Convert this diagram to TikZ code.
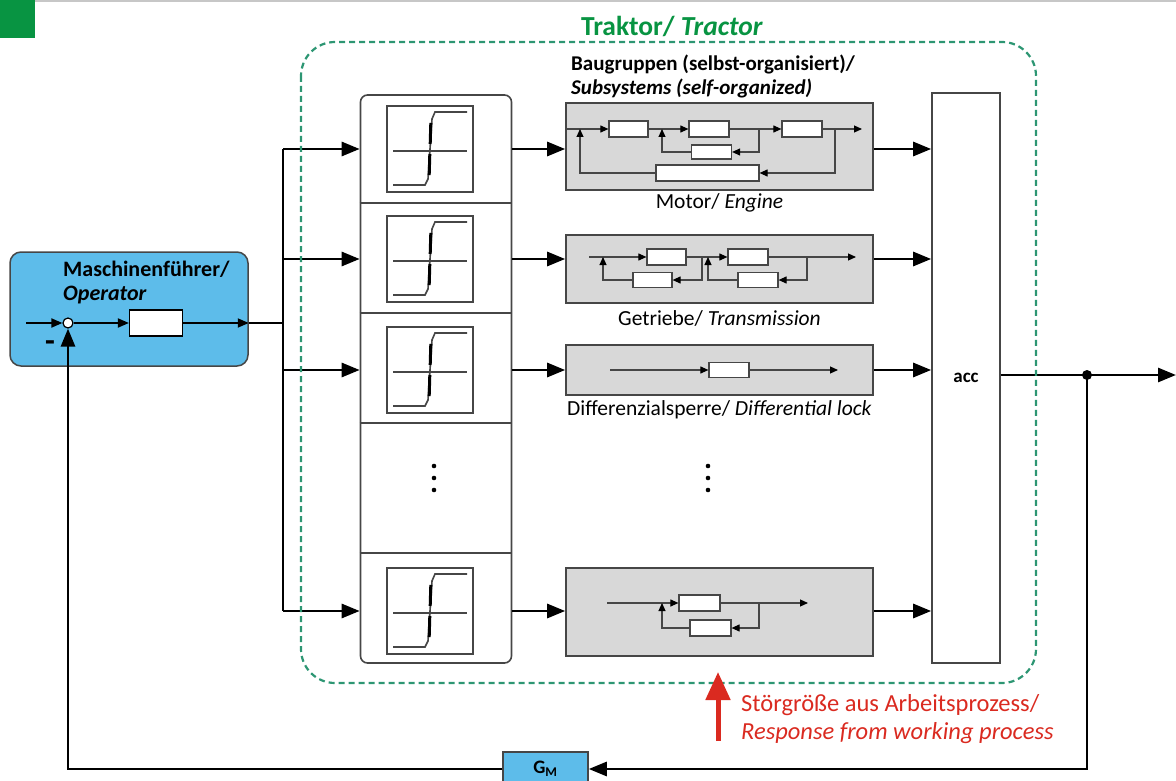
\documentclass[tikz,border=0pt]{standalone}
\usepackage{fontspec}
\setmainfont{Carlito}
\usetikzlibrary{arrows.meta,positioning}

\definecolor{kopfgruen}{RGB}{8,148,66}
\definecolor{rahmengruen}{RGB}{45,150,115}
\definecolor{fahrerblau}{RGB}{93,188,234}
\definecolor{baugrau}{RGB}{216,216,216}
\definecolor{stoerrot}{RGB}{218,42,32}
\definecolor{linie}{RGB}{70,70,70}

\tikzset{
  signal/.style={line width=2.8pt, -{Triangle[length=18pt,width=14pt]}},
  pfeil/.style={line width=1.8pt, -{Triangle[length=11pt,width=9pt]}},
  leitung/.style={line width=2.8pt},
  fein/.style={draw=linie, line width=1.1pt, -{Triangle[length=8pt,width=7pt,color=black]}},
  feinlinie/.style={draw=linie, line width=1.1pt},
  block/.style={draw=linie, fill=white, line width=1.2pt, minimum width=40pt, minimum height=16pt, inner sep=0pt},
  baugruppe/.style={draw=linie, fill=baugrau, line width=1.6pt, minimum width=307pt, inner sep=0pt},
  rahmen/.style={draw=linie, line width=1.6pt, inner sep=0pt},
  kennlinie/.style={draw=linie, line width=1.6pt, minimum size=86pt, inner sep=0pt},
  etikett/.style={font=\fontsize{21.5}{24}\selectfont, inner sep=0pt},
  fett/.style={font=\fontsize{22}{24}\selectfont\bfseries, align=left, inner sep=0pt}
}

\begin{document}
\begin{tikzpicture}[x=1pt, y=-1pt]
  \useasboundingbox (0,0) rectangle (1176,781);

  % Kopfzeile
  \fill[kopfgruen] (0,0) rectangle (35,38);
  \draw[black!22, line width=1.5pt] (35,0.8) -- (1176,0.8);

  % Titel
  \node[font=\fontsize{27.5}{30}\selectfont\bfseries, text=kopfgruen] (traktor) at (672,26) {Traktor/ \textit{Tractor}};
  \node[fett, font=\fontsize{21}{24}\selectfont\bfseries, anchor=west] (baugruppen) at (571,76) {Baugruppen (selbst-organisiert)/\\\textit{Subsystems (self-organized)}};

  % Maschinenführer
  \node[draw=linie, fill=fahrerblau, line width=1.5pt, rounded corners=11pt, minimum width=238pt, minimum height=114pt] (fuehrer) at (129,309) {};
  \node[fett, anchor=north west] (fuehrertext) at (63,261) {Maschinenführer/\\\textit{Operator}};
  \node[circle, draw=black, fill=white, line width=1.2pt, minimum size=10pt, inner sep=0pt] (summe) at (68,323) {};
  \node[block, draw=black, minimum width=53pt, minimum height=26pt] (regler) at (156,323) {};
  \node[font=\fontsize{32}{32}\selectfont\bfseries, inner sep=0pt] (minus) at (50,346) {-};
  \coordinate (eingang) at (26,323);
  \coordinate (verteiler) at (283,323);
  \draw[pfeil] (eingang) -- (summe);
  \draw[pfeil] (summe) -- (regler);
  \draw[pfeil] (regler) -- (regler -| fuehrer.east);
  \draw[leitung] (regler -| fuehrer.east) -- (verteiler);

  % Kennlinien
  \node[rahmen, rounded corners=7pt, minimum width=151pt, minimum height=568pt] (kennlinien) at (436,379) {};
  \foreach \y in {203,313,423,553}
    \draw[linie, line width=1.6pt] (kennlinien.west |- 0,\y) -- (kennlinien.east |- 0,\y);
  \foreach \y/\name in {149/k1, 259/k2, 370/k3, 611/k5} {
    \node[kennlinie] (\name) at (430,\y) {};
    \begin{scope}[shift={(\name)}]
      \draw[linie, line width=1.6pt] (-37,2) -- (37,2);
      \draw[linie, line width=1.6pt] (-37,36) -- (-5,36) -- (-2,30) -- (0,0) -- (2,-30) -- (5,-37) -- (37,-37);
      \draw[line width=3pt] (-0.8,26) -- (-0.2,5) (0.2,-5) -- (0.8,-26);
    \end{scope}
  }
  % Punkte
  \foreach \x in {434,708}
    \foreach \y in {466,478,490}
      \fill (\x,\y) circle (2.3pt);

  % Verteiler
  \draw[leitung] (verteiler |- k1) -- (verteiler |- k5);
  \foreach \name in {k1,k2,k3,k5}
    \draw[signal] (verteiler |- \name) -- (\name -| kennlinien.west);

  % Baugruppen
  \node[baugruppe, minimum height=87pt] (motor) at (719.5,146.5) {};
  \node[baugruppe, minimum height=68pt] (getriebe) at (719.5,269) {};
  \node[baugruppe, minimum height=50pt] (sperre) at (719.5,370) {};
  \node[baugruppe, minimum height=88pt] (weitere) at (719.5,612) {};
  \node[etikett, below=3pt of motor] (motortext) {Motor/ \textit{Engine}};
  \node[etikett, below=7pt of getriebe] (getriebetext) {Getriebe/ \textit{Transmission}};
  \node[etikett, below=5pt of sperre] (sperretext) {Differenzialsperre/ \textit{Differential lock}};

  % acc
  \node[rahmen, minimum width=68pt, minimum height=570pt, font=\fontsize{19}{20}\selectfont\bfseries] (acc) at (966,378) {acc};

  \foreach \name/\ziel in {k1/motor, k2/getriebe, k3/sperre, k5/weitere} {
    \draw[signal] (\name -| kennlinien.east) -- (\name -| \ziel.west);
    \draw[signal] (\name -| \ziel.east) -- (\name -| acc.west);
  }

  % Motor intern
  \node[block, minimum width=39pt] (m1) at (628.5,129) {};
  \node[block] (m2) at (709,129) {};
  \node[block] (m3) at (802,129) {};
  \node[block, minimum height=14pt] (mr1) at (711.5,152) {};
  \node[block, minimum width=103pt] (mr2) at (707.5,173) {};
  \coordinate (m_ein) at (567,129);
  \coordinate (m_s1) at (580,129);
  \coordinate (m_s2) at (662,129);
  \coordinate (m_b1) at (759,129);
  \coordinate (m_b2) at (835,129);
  \coordinate (m_aus) at (862,129);
  \draw[feinlinie] (m_ein) -- (m_s1);
  \draw[fein] (m_s1) -- (m1);
  \draw[fein] (m1) -- (m2);
  \draw[fein] (m2) -- (m3);
  \draw[fein] (m3) -- (m_aus);
  \draw[fein] (m_b1) |- (mr1);
  \draw[fein] (mr1) -| (m_s2);
  \draw[fein] (m_b2) |- (mr2);
  \draw[fein] (mr2) -| (m_s1);

  % Getriebe intern
  \node[block, minimum width=39pt] (t1) at (666.5,257) {};
  \node[block] (t2) at (748,257) {};
  \node[block, minimum width=39pt, minimum height=15pt] (tr1) at (652.5,280) {};
  \node[block, minimum height=15pt] (tr2) at (758,280) {};
  \coordinate (t_ein) at (589,257);
  \coordinate (t_s1) at (603,257);
  \coordinate (t_b1) at (702,257);
  \coordinate (t_s2) at (708,257);
  \coordinate (t_b2) at (807,257);
  \coordinate (t_aus) at (856,257);
  \draw[feinlinie] (t_ein) -- (t_s1);
  \draw[fein] (t_s1) -- (t1);
  \draw[fein] (t1) -- (t2);
  \draw[fein] (t2) -- (t_aus);
  \draw[fein] (t_b1) |- (tr1);
  \draw[fein] (tr1) -| (t_s1);
  \draw[fein] (t_b2) |- (tr2);
  \draw[fein] (tr2) -| (t_s2);

  % Differenzialsperre intern
  \node[block, minimum height=15pt] (s1) at (729,370) {};
  \coordinate (s_ein) at (610,370);
  \coordinate (s_aus) at (838,370);
  \draw[fein] (s_ein) -- (s1);
  \draw[fein] (s1) -- (s_aus);

  % weitere Baugruppe intern
  \node[block, minimum width=41pt] (w1) at (699.5,603) {};
  \node[block, minimum width=41pt] (wr1) at (710.5,628) {};
  \coordinate (w_ein) at (607,603);
  \coordinate (w_s1) at (662,603);
  \coordinate (w_b1) at (759,603);
  \coordinate (w_aus) at (808,603);
  \draw[fein] (w_ein) -- (w1);
  \draw[fein] (w1) -- (w_aus);
  \draw[fein] (w_b1) |- (wr1);
  \draw[fein] (wr1) -| (w_s1);

  % Ausgang und Rueckfuehrung
  \coordinate (abzweig) at (1087,375);
  \coordinate (ausgang) at (1176,375);
  \draw[leitung] (acc.east |- abzweig) -- (abzweig);
  \draw[signal] (abzweig) -- (ausgang);
  \fill (abzweig) circle (5pt);
  \node[draw=linie, fill=fahrerblau, line width=1.5pt, minimum width=85pt, minimum height=34pt, font=\fontsize{19}{20}\selectfont\bfseries] (gm) at (545.5,769) {G\textsubscript{M}};
  \draw[signal] (abzweig) |- (gm.east);
  \draw[signal] (gm.west) -| (summe.south);

  % Traktor-Rahmen
  \draw[rahmengruen, line width=2.2pt, dash pattern=on 6pt off 4pt, rounded corners=34pt] (301,42) rectangle (1036,683);

  % Stoergroesse
  \coordinate (stoerquelle) at (718,741);
  \coordinate (stoerziel) at (718,672);
  \draw[stoerrot, line width=5pt, -{Triangle[length=28pt,width=24pt]}] (stoerquelle) -- (stoerziel);
  \node[anchor=west, align=left, text=stoerrot, font=\fontsize{24.5}{28}\selectfont, inner sep=0pt] (stoertext) at (741,719) {Störgröße aus Arbeitsprozess/\\\textit{Response from working process}};
\end{tikzpicture}
\end{document}
